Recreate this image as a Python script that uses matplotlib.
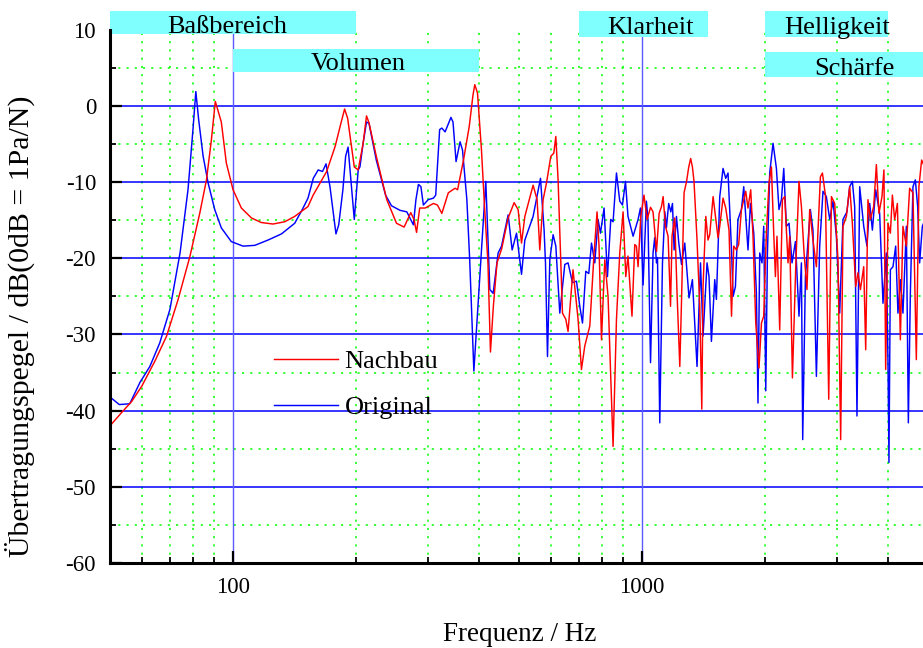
import numpy as np
import matplotlib
matplotlib.use("Agg")
import matplotlib.pyplot as plt
from matplotlib.patches import Rectangle

plt.rcParams['font.family'] = ['Liberation Serif', 'DejaVu Serif']
plt.rcParams['axes.unicode_minus'] = False

# ---------------- data ----------------
orig_f = [50, 52.7, 55.9, 59.2, 62.6, 66.2, 70.1, 74.2, 77.6, 79.8, 81.1, 82.4, 84.5, 86.9,
          90.2, 93.6, 99.0, 105.8, 113, 121.8, 131.3, 141.5, 148, 152.5, 157.1, 161.5, 165.5,
          168.8, 172.6, 178.5, 181.3, 185.6, 188.5, 191.1, 197.9, 202.3, 204.3, 208, 212, 215,
          224, 236, 244, 256, 266, 276, 280, 284, 288, 292, 300, 309, 313, 320, 324, 330, 341,
          345, 351, 359, 364, 373, 379, 388, 398, 407, 415,
          424.5, 432.5, 444.8, 453.4, 470.6, 481.3, 493.3, 507.4, 517, 541.6, 564.6, 576.2,
          580.7, 587.3, 595, 606.2, 615.5, 629.4, 647.4, 659.4, 676, 691.4, 704.4, 715.2,
          728.6, 741, 752.4, 766.5, 780.7, 791.4, 807.6, 823.1, 838.6, 849.6, 866, 882.2,
          895.7, 911,
          924, 951, 978, 991, 1006, 1025, 1034, 1049, 1064, 1074, 1085, 1091, 1105, 1122,
          1137, 1147, 1162, 1176, 1187, 1198, 1214, 1230, 1249, 1272, 1303, 1328, 1363, 1390,
          1410, 1442, 1458, 1478, 1506, 1520, 1549, 1578, 1602, 1623, 1655, 1670, 1692, 1716,
          1750, 1773, 1816, 1841, 1876, 1904, 1921, 1940, 1965, 1984, 2007, 2026,
          2052, 2091, 2131, 2162, 2192, 2221, 2254, 2288, 2327, 2372, 2420, 2453, 2471, 2509,
          2545, 2580, 2618, 2669, 2719, 2770, 2823, 2877, 2931, 2987, 3043, 3100, 3170, 3219,
          3268, 3311, 3354, 3406, 3484, 3548, 3603, 3658, 3727, 3811, 3883, 3957, 3993, 4016,
          4048, 4108, 4171, 4224, 4282, 4345, 4429, 4479, 4530, 4597, 4659, 4720, 4773, 4846,
          5000]
orig_db = [-38.2, -39.2, -39.1, -36.3, -34.2, -31.1, -26.7, -19.3, -11.0, -3.1, 1.9, -1.8, -6.6, -10.1,
           -13.6, -16.0, -17.8, -18.4, -18.3, -17.6, -16.8, -15.4, -13.5, -12.1, -9.5, -8.4, -8.6,
           -7.6, -10.6, -16.8, -15.6, -11.0, -6.6, -5.4, -14.9, -8.4, -8.0, -4.9, -2.1, -2.3,
           -7.1, -11.7, -13.1, -13.7, -13.9, -15.6, -12.3, -10.3, -10.6, -13.0, -12.3, -12.1, -11.7,
           -3.1, -2.9, -3.4, -1.5, -2.1, -7.3, -4.7, -5.8, -12.3, -20.2, -34.8, -25.4, -17.1, -9.9,
           -24.1, -24.6, -19.3, -18.4, -14.3, -18.9, -16.7, -22.1, -17.6, -14.5, -9.5, -16.3,
           -20.6, -32.9, -20.2, -16.9, -18.4, -27.2, -20.8, -20.6, -23.2, -23.0, -26.3, -28.5,
           -21.7, -22.0, -18.0, -20.6, -14.9, -16.7, -13.4, -22.4, -14.9, -15.2, -8.8, -12.5,
           -13.0, -9.9,
           -14.5, -17.1, -14.9, -13.4, -23.5, -12.5, -14.9, -33.7, -19.3, -17.3, -20.6, -19.9,
           -41.6, -20.6, -13.9, -16.0, -12.8, -13.9, -12.8, -18.9, -14.5, -18.0, -20.8, -18.0,
           -25.2, -22.8, -34.2, -20.6, -30.2, -20.6, -22.4, -30.9, -22.8, -25.4, -11.9, -8.2,
           -9.5, -8.8, -18.9, -25.0, -23.7, -14.9, -13.6, -10.6, -18.9, -12.8, -16.7, -24.6,
           -39.0, -19.3, -20.6, -15.8, -37.4, -19.3,
           -8.8, -4.9, -8.2, -13.6, -12.3, -8.2, -15.8, -15.4, -20.6, -17.8, -27.6, -20.6, -43.8,
           -22.4, -18.0, -13.6, -16.3, -35.5, -18.4, -11.2, -11.9, -14.9, -12.5, -17.1, -27.2,
           -14.9, -13.9, -10.6, -9.9, -13.2, -40.7, -10.6, -15.8, -18.4, -12.8, -16.3, -11.0,
           -14.1, -25.9, -19.3, -33.3, -46.8, -21.5, -21.1, -18.4, -27.2, -22.8, -27.2, -15.8,
           -41.6, -24.6, -10.6, -9.7, -13.2, -20.6, -15.8, -14.0]

nach_f = [50, 53.3, 56.5, 59.8, 64.4, 68.8, 73.4, 78.4, 82.9, 86.1, 88.5, 90.5, 93.6, 96.3,
          100, 104.8, 110.9, 117.2, 125.2, 133.8, 141.5, 152.5, 157, 169.4, 177.7, 183.5,
          187.4, 190.6, 197.9, 202.3, 208, 212, 215, 224, 237.6, 251, 262, 272, 277, 281, 286,
          295, 309, 316, 324, 336, 349, 354, 366, 378, 386, 390, 396, 405, 412, 420, 426, 433,
          442, 454,
          470.6, 486.7, 497.8, 507.4, 517, 541.6, 553.9, 562.4, 573, 584, 598.4, 608.5, 615.5,
          623.4, 639, 651, 659.4, 678, 697.6, 711, 724.5, 745.2, 763.5, 776.3, 785, 795.9,
          810.8, 825.9, 849.6, 866, 882.2, 898.8, 912.6,
          924, 945, 960, 969, 978, 993, 1011, 1029, 1049, 1064, 1085, 1101, 1116, 1126, 1141,
          1158, 1174, 1184, 1202, 1218, 1237, 1249, 1267, 1285, 1301, 1315, 1328, 1340, 1363,
          1384, 1400, 1410, 1432, 1450, 1464, 1492, 1512, 1534, 1549, 1578, 1602, 1632, 1655,
          1676, 1702, 1723, 1750, 1793, 1816, 1844, 1868, 1897, 1932, 1959, 1984, 2014, 2044,
          2072, 2099, 2119, 2138, 2171, 2204, 2233, 2275, 2297, 2332, 2376, 2420, 2453, 2490,
          2531, 2570, 2618, 2669, 2730, 2761, 2808, 2861, 2905, 2959, 3014, 3060, 3100, 3160,
          3219, 3268, 3330, 3373, 3420, 3484, 3523, 3568, 3617, 3685, 3741, 3796, 3861, 3904,
          3942, 3993, 4048, 4094, 4147, 4211, 4282, 4345, 4429, 4512, 4597, 4685, 4754, 4827,
          5000]
nach_db = [-42.0, -40.3, -38.8, -36.8, -33.5, -30.2, -25.4, -19.8, -14.1, -9.7, -4.5, 0.6, -2.1, -7.5,
           -11.0, -13.4, -14.7, -15.3, -15.5, -15.2, -14.5, -13.2, -11.7, -8.6, -5.3, -2.3,
           -0.4, -1.6, -8.0, -8.4, -4.9, -1.3, -2.2, -6.6, -12.3, -15.4, -15.9, -14.0, -14.9, -16.6,
           -13.4, -13.4, -12.8, -13.0, -14.1, -11.4, -10.8, -11.0, -7.1, -2.7, 1.4, 2.8, 1.7, -5.8,
           -13.2, -20.6, -32.3, -26.3, -20.6, -18.7,
           -14.7, -12.7, -13.6, -18.0, -14.5, -10.4, -12.3, -18.9, -12.3, -10.1, -6.6, -6.2, -4.0,
           -9.7, -27.2, -28.0, -29.6, -21.5, -28.0, -34.6, -31.5, -28.9, -19.3, -13.9, -18.4, -30.7,
           -20.2, -25.0, -44.7, -28.0, -19.3, -13.9, -22.4,
           -19.7, -27.6, -18.2, -18.4, -21.1, -14.5, -11.7, -14.9, -13.3, -13.9, -19.1, -14.1,
           -13.2, -11.9, -15.8, -17.1, -26.3, -17.1, -14.7, -24.6, -34.2, -25.6, -11.4, -9.9,
           -8.0, -6.9, -8.0, -9.9, -17.6, -26.3, -39.8, -23.7, -14.5, -17.6, -16.9, -11.9, -14.5,
           -17.3, -15.8, -12.1, -13.4, -16.3, -27.6, -18.4, -18.9, -18.2, -13.6, -11.2, -13.4,
           -11.0, -17.1, -28.5, -34.4, -28.5, -27.6, -16.7, -10.1,
           -8.0, -16.7, -22.4, -17.1, -29.4, -12.3, -11.9, -20.6, -17.1, -35.7, -21.1, -9.9,
           -13.2, -19.3, -24.1, -13.6, -17.6, -21.1, -9.3, -8.8, -11.7, -38.5, -11.9, -12.8,
           -20.2, -43.8, -15.8, -14.5, -10.6, -15.4, -23.7, -21.9, -24.1, -21.1, -32.0, -12.3,
           -14.9, -13.2, -7.7, -14.1, -11.9, -8.4, -34.6, -15.4, -16.7, -11.7, -14.9, -12.8,
           -30.7, -15.8, -18.4, -10.8, -11.4, -33.3, -10.6, -7.1, -9.0]

band_names = ['Baßbereich', 'Volumen', 'Klarheit', 'Helligkeit', 'Schärfe']
band_lo = [50, 100, 700, 2000, 2000]
band_hi = [200, 400, 1450, 4000, 5000]
band_bottom = [9.45, 4.5, 9.05, 9.05, 3.8]
band_top = [12.5, 7.5, 12.5, 12.5, 7.1]
band_text_x = [97, 202, 1046, 3000, 3300]
band_text_y = [9.6, 4.75, 9.45, 9.45, 4.1]

x_major = [100, 1000]
x_major_labels = ['100', '1000']
x_minor = [60, 70, 80, 90, 200, 300, 400, 500, 600, 700, 800, 900, 2000, 3000, 4000]
y_major = [-60, -50, -40, -30, -20, -10, 0, 10]
y_minor = [-55, -45, -35, -25, -15, -5, 5]
y_grid_major = [-50, -40, -30, -20, -10, 0]

# ---------------- figure ----------------
fig = plt.figure(figsize=(9.23, 6.48), dpi=100)
ax = fig.add_axes([0.1191, 0.1312, 0.8862, 0.8228])
ax.set_xscale('log')
ax.set_xlim(50, 5000)
ax.set_ylim(-60, 10)

green = '#00ff00'
for v in y_minor:
    ax.axhline(v, color=green, lw=1.1, linestyle=(0, (1.4, 4.0)), zorder=1)
for v in x_minor:
    ax.axvline(v, color=green, lw=1.1, linestyle=(0, (1.4, 4.0)), zorder=1)
for v in y_grid_major:
    ax.axhline(v, color='#0000ff', lw=1.1, zorder=1.5)
for v in x_major:
    ax.axvline(v, color='#5a5aff', lw=1.0, zorder=1.5)

ax.plot(orig_f, orig_db, color='#0000ff', lw=1.05, label='Original', zorder=3)
ax.plot(nach_f, nach_db, color='#ff0000', lw=1.05, label='Nachbau', zorder=3.1)

for name, lo, hi, b, t, tx, ty in zip(band_names, band_lo, band_hi, band_bottom, band_top,
                                       band_text_x, band_text_y):
    ax.add_patch(Rectangle((lo, b), hi - lo, t - b, facecolor='#80ffff', edgecolor='none',
                           clip_on=False, zorder=5))
    ax.text(tx, ty, name, ha='center', va='baseline', fontsize=19, color='black',
            zorder=6, clip_on=False)

# legend
handles, labels = ax.get_legend_handles_labels()
leg = ax.legend([handles[1], handles[0]], [labels[1], labels[0]], frameon=False,
                loc='upper left', bbox_to_anchor=(0.185, 0.425), fontsize=19,
                handlelength=2.4, handletextpad=0.25, labelspacing=0.85, borderpad=0)
leg.set_zorder(7)

# axes styling
for s in ['top', 'right']:
    ax.spines[s].set_visible(False)
ax.spines['left'].set_linewidth(2.2)
ax.spines['bottom'].set_linewidth(2.2)
ax.spines['left'].set_zorder(8)
ax.spines['bottom'].set_zorder(8)

ax.set_xticks(x_major)
ax.set_xticklabels(x_major_labels)
ax.set_xticks(x_minor, minor=True)
ax.xaxis.set_minor_formatter(matplotlib.ticker.NullFormatter())
ax.set_yticks(y_major)
ax.set_yticklabels([str(v) for v in y_major])
ax.set_yticks(y_minor, minor=True)

ax.tick_params(which='major', direction='in', length=8.5, width=1.6, pad=10,
               labelsize=16.5, top=False, right=False, colors='black')
ax.tick_params(which='minor', direction='in', length=4.3, width=1.3, top=False, right=False)

fig.text(0.5634, 0.0216, 'Frequenz / Hz', ha='center', va='center', fontsize=19.5)
fig.text(0.0217, 0.497, 'Übertragungspegel / dB(0dB = 1Pa/N)', ha='center', va='center',
         rotation=90, fontsize=21.5)

fig.savefig('out.png', dpi=100)
